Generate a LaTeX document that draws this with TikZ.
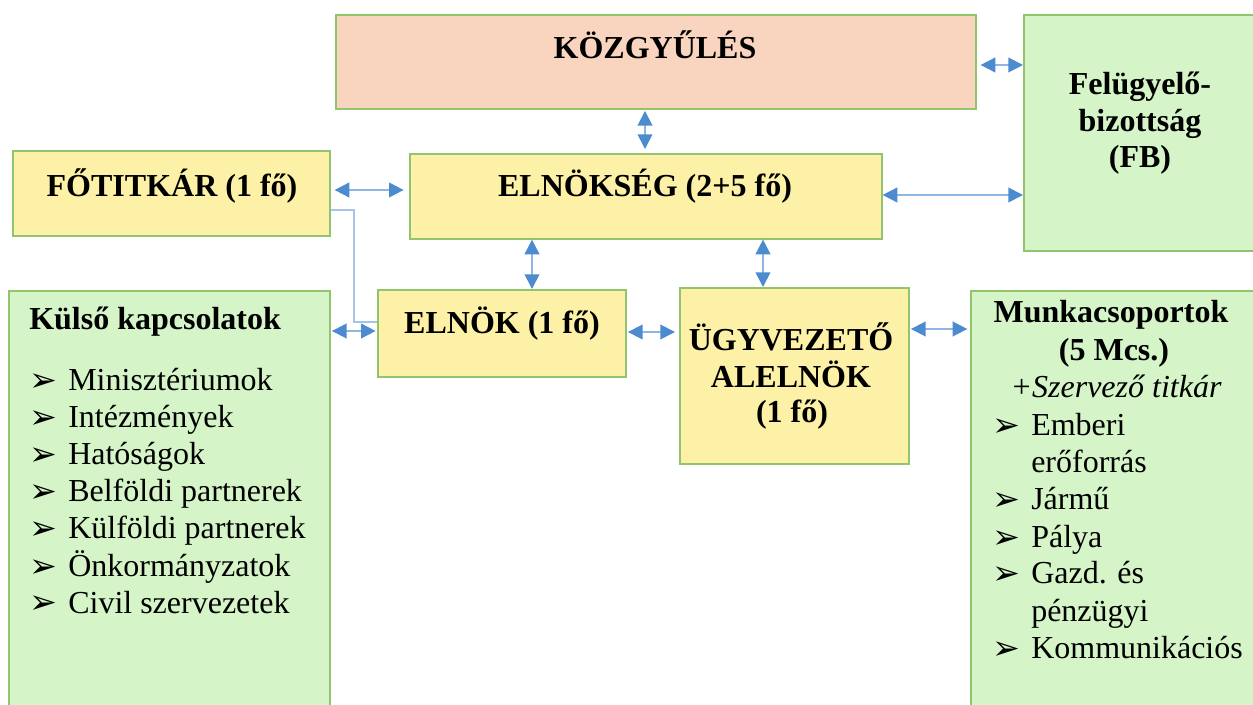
\documentclass[tikz,border=0pt]{standalone}
\usepackage{fontspec}
\setmainfont{Liberation Serif}
\newfontfamily\symf{DejaVu Sans}
\usetikzlibrary{arrows.meta}
\definecolor{yel}{HTML}{FCF1A6}
\definecolor{peach}{HTML}{F9D5BF}
\definecolor{grn}{HTML}{D5F4C8}
\definecolor{bord}{HTML}{92C46E}
\definecolor{arr}{HTML}{4C8BD0}
\definecolor{shaft}{HTML}{8FB5E2}
\begin{document}
\begin{tikzpicture}[x=0.75pt,y=-0.75pt,
  box/.style={draw=bord, line width=1.2pt, inner sep=0pt, anchor=north west},
  ttl/.style={font=\fontsize{24}{27.75}\selectfont\bfseries, anchor=base, inner sep=0pt},
  ttlw/.style={font=\fontsize{24}{27.75}\selectfont\bfseries, anchor=base west, inner sep=0pt},
  itm/.style={font=\fontsize{24}{27.75}\selectfont, anchor=base west, inner sep=0pt},
  itl/.style={font=\fontsize{24}{27.75}\selectfont\itshape, anchor=base, inner sep=0pt},
  bul/.style={font=\symf\fontsize{25}{27}\selectfont, anchor=base west, inner sep=0pt},
  link/.style={draw=shaft, line width=1.3pt,
    {Triangle[length=11pt,width=11pt,color=arr]}-{Triangle[length=11pt,width=11pt,color=arr]}},
  thin/.style={draw=shaft!80, line width=1pt}
]
\useasboundingbox (0,0) rectangle (1253,705);
\fill[white] (0,0) rectangle (1253,705);

% boxes
\node[box, fill=peach, minimum width=480pt, minimum height=70.5pt] (kozgy) at (335,14) {};
\node[box, fill=grn, minimum width=175.5pt, minimum height=177pt] (fb) at (1023,14) {};
\node[box, fill=yel, minimum width=237.75pt, minimum height=63.75pt] (fotit) at (12,150) {};
\node[box, fill=yel, minimum width=354pt, minimum height=63.75pt] (elnokseg) at (409,153) {};
\node[box, fill=grn, minimum width=240.75pt, minimum height=318pt] (kulso) at (8,290) {};
\node[box, fill=yel, minimum width=186pt, minimum height=65.25pt] (elnok) at (377,289) {};
\node[box, fill=yel, minimum width=171.75pt, minimum height=132pt] (ugyv) at (679,287) {};
\node[box, fill=grn, minimum width=216pt, minimum height=318pt] (munka) at (970,290) {};

% texts
\node[ttl] (tkozgy) at (655,59) {KÖZGYŰLÉS};
\node[ttl] (tfb1) at (1140,95) {Felügyelő-};
\node[ttl] (tfb2) at (1140,132) {bizottság};
\node[ttl] (tfb3) at (1140,168) {(FB)};
\node[ttl] (tfotit) at (172,197) {FŐTITKÁR (1 fő)};
\node[ttl] (telnokseg) at (645,197) {ELNÖKSÉG (2+5 fő)};
\node[ttl] (telnok) at (502,334) {ELNÖK (1 fő)};
\node[ttl] (tugyv1) at (791,351) {ÜGYVEZETŐ};
\node[ttl] (tugyv2) at (791,388) {ALELNÖK};
\node[ttl] (tugyv3) at (792,423) {(1 fő)};

\node[ttlw] (tkulso) at (29,330) {Külső kapcsolatok};
\foreach \t [count=\i from 0] in {Minisztériumok,Intézmények,Hatóságok,Belföldi partnerek,Külföldi partnerek,Önkormányzatok,Civil szervezetek}{
  \node[bul] (kb\i) at (29,{392+37*\i}) {➢};
  \node[itm] (ki\i) at (68,{391+37*\i}) {\t};
}

\node[ttl] (tmunka1) at (1111,323) {Munkacsoportok};
\node[ttl] (tmunka2) at (1114,361) {(5 Mcs.)};
\node[itl] (tmunka3) at (1116,398) {+Szervező titkár};
\node[bul] (mb0) at (992,437) {➢};
\node[itm] (mi0) at (1031,436) {Emberi};
\node[itm] (mi0b) at (1031,473) {erőforrás};
\node[bul] (mb1) at (992,511) {➢};
\node[itm] (mi1) at (1031,510) {Jármű};
\node[bul] (mb2) at (992,548) {➢};
\node[itm] (mi2) at (1031,547) {Pálya};
\node[bul] (mb3) at (992,585) {➢};
\node[itm] (mi3) at (1031,584) {Gazd. és};
\node[itm] (mi3b) at (1031,621) {pénzügyi};
\node[bul] (mb4) at (992,659) {➢};
\node[itm] (mi4) at (1031,658) {Kommunikációs};

% helper coordinates
\coordinate (y65) at (0,65);
\coordinate (y190) at (0,190);
\coordinate (y195) at (0,195);
\coordinate (y210) at (0,210);
\coordinate (y322) at (0,322);
\coordinate (y331) at (0,331);
\coordinate (y332) at (0,332);
\coordinate (y329) at (0,329);
\coordinate (x645) at (645,0);
\coordinate (x532) at (532,0);
\coordinate (x763) at (763,0);
\coordinate (bend1) at (354,210);
\coordinate (bend2) at (354,322);

% connectors
\draw[link, shorten <=3pt] (kozgy.east |- y65) -- (fb.west |- y65);
\draw[link, shorten <=1pt, shorten >=3pt] (kozgy.south -| x645) -- (elnokseg.north -| x645);
\draw[link, shorten <=3pt, shorten >=4pt] (fotit.east |- y190) -- (elnokseg.west |- y190);
\draw[link] (elnokseg.east |- y195) -- (fb.west |- y195);
\draw[link] (elnokseg.south -| x532) -- (elnok.north -| x532);
\draw[link] (elnokseg.south -| x763) -- (ugyv.north -| x763);
\draw[link, shorten <=1pt, shorten >=1pt] (kulso.east |- y331) -- (elnok.west |- y331);
\draw[link, shorten <=1pt, shorten >=3pt] (elnok.east |- y332) -- (ugyv.west |- y332);
\draw[link, shorten <=1pt, shorten >=2pt] (ugyv.east |- y329) -- (munka.west |- y329);
\draw[thin] (fotit.east |- y210) -- (bend1) -- (bend2) -- (elnok.west |- y322);
\end{tikzpicture}
\end{document}
